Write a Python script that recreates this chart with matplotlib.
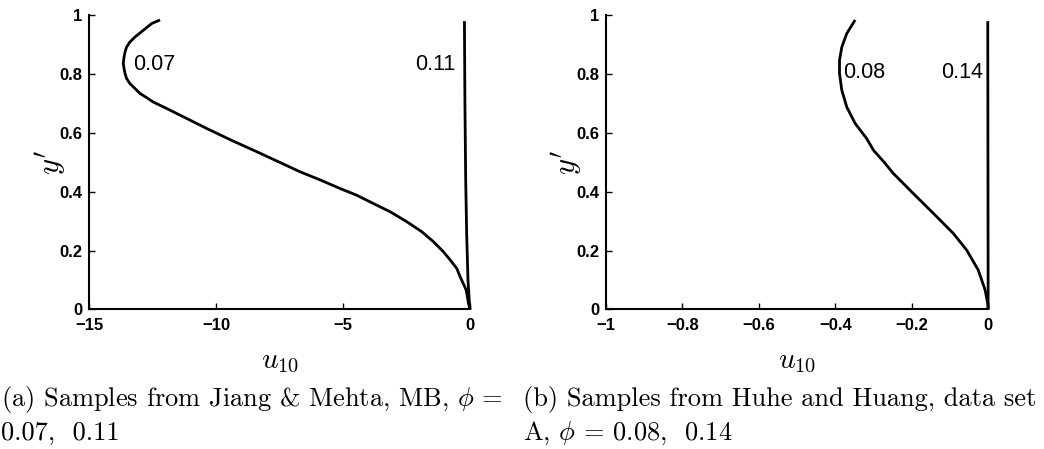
import matplotlib
matplotlib.use("Agg")
import matplotlib.pyplot as plt

plt.rcParams["mathtext.fontset"] = "cm"

# Velocity profiles u10 against y' (read as (u, y) samples)
jm_007_u = [-12.21, -12.54, -12.87, -13.20, -13.40, -13.53, -13.59, -13.63, -13.66, -13.63, -13.59,
            -13.53, -13.40, -13.20, -13.00, -12.74, -12.48, -11.95, -11.16, -10.37, -9.40, -8.40,
            -7.55, -6.70, -5.90, -5.12, -4.46, -3.81, -3.15, -2.49, -1.90, -1.44, -1.05, -0.78,
            -0.52, -0.39, -0.15, -0.06, 0.0]
jm_007_y = [0.984, 0.972, 0.949, 0.926, 0.909, 0.892, 0.875, 0.858, 0.836, 0.819, 0.802,
            0.785, 0.768, 0.751, 0.734, 0.720, 0.705, 0.683, 0.649, 0.615, 0.575, 0.536,
            0.502, 0.468, 0.440, 0.411, 0.388, 0.360, 0.332, 0.298, 0.264, 0.230, 0.196, 0.168,
            0.139, 0.111, 0.066, 0.020, 0.0]
jm_011_u = [-0.22, -0.20, -0.17, -0.13, -0.08, -0.03, 0.0]
jm_011_y = [0.98, 0.70, 0.44, 0.25, 0.10, 0.03, 0.0]

hh_008_u = [-0.348, -0.370, -0.383, -0.389, -0.389, -0.383, -0.370, -0.348, -0.318, -0.300,
            -0.272, -0.248, -0.196, -0.143, -0.091, -0.056, -0.026, -0.008, -0.001, 0.0]
hh_008_y = [0.984, 0.938, 0.892, 0.847, 0.802, 0.745, 0.688, 0.632, 0.581, 0.541,
            0.500, 0.462, 0.394, 0.326, 0.258, 0.201, 0.134, 0.066, 0.020, 0.0]
hh_014_u = [-0.001, 0.0]
hh_014_y = [0.98, 0.0]

y_ticks = [0, 0.2, 0.4, 0.6, 0.8, 1]
y_ticklabels = ["0", "0.2", "0.4", "0.6", "0.8", "1"]
xa_ticks = [-15, -10, -5, 0]
xa_ticklabels = ["\u221215", "\u221210", "\u22125", "0"]
xb_ticks = [-1, -0.8, -0.6, -0.4, -0.2, 0]
xb_ticklabels = ["\u22121", "\u22120.8", "\u22120.6", "\u22120.4", "\u22120.2", "0"]

fig = plt.figure(figsize=(10.44, 4.49), dpi=100)
ax_a = fig.add_axes([0.0855, 0.311, 0.3647, 0.655])
ax_b = fig.add_axes([0.5805, 0.311, 0.366, 0.655])

line_kw = dict(color="black", lw=2.0, solid_capstyle="butt", solid_joinstyle="round", clip_on=False)
ax_a.plot(jm_007_u, jm_007_y, **line_kw)
ax_a.plot(jm_011_u, jm_011_y, **line_kw)
ax_b.plot(hh_008_u, hh_008_y, **line_kw)
ax_b.plot(hh_014_u, hh_014_y, **line_kw)

lab_font = dict(family="Liberation Sans", fontsize=15.5, color="black")
ax_a.text(-13.27, 0.832, "0.07", ha="left", va="center", **lab_font)
ax_a.text(-0.59, 0.832, "0.11", ha="right", va="center", **lab_font)
ax_b.text(-0.380, 0.807, "0.08", ha="left", va="center", **lab_font)
ax_b.text(-0.014, 0.807, "0.14", ha="right", va="center", **lab_font)

for ax, xt, xtl, xlim in [(ax_a, xa_ticks, xa_ticklabels, (-15, 0)),
                          (ax_b, xb_ticks, xb_ticklabels, (-1, 0))]:
    ax.set_xlim(*xlim)
    ax.set_ylim(0, 1)
    ax.set_xticks(xt)
    ax.set_xticklabels(xtl)
    ax.set_yticks(y_ticks)
    ax.set_yticklabels(y_ticklabels)
    for s in ("top", "right"):
        ax.spines[s].set_visible(False)
    for s in ("left", "bottom"):
        ax.spines[s].set_linewidth(1.5)
    ax.tick_params(direction="in", length=4, width=1.0)
    ax.tick_params(axis="x", pad=6)
    ax.tick_params(axis="y", pad=5)
    for t in ax.get_xticklabels() + ax.get_yticklabels():
        t.set_family("Liberation Sans")
        t.set_fontweight("bold")
        t.set_fontsize(12)
    ax.set_xlabel(r"$u_{10}$", fontsize=21, labelpad=10)
    ax.set_ylabel(r"$y'$", fontsize=22, labelpad=-6)

cap_kw = dict(family="cmr10", fontsize=19, ha="left", va="baseline")
fig.text(0.001, 0.096, r"(a) Samples from Jiang & Mehta, MB, $\phi$ =", **cap_kw)
fig.text(0.001, 0.021, "0.07,  0.11", **cap_kw)
fig.text(0.501, 0.096, "(b) Samples from Huhe and Huang, data set", **cap_kw)
fig.text(0.501, 0.021, r"A, $\phi$ = 0.08,  0.14", **cap_kw)

fig.savefig("out.png", dpi=100)
